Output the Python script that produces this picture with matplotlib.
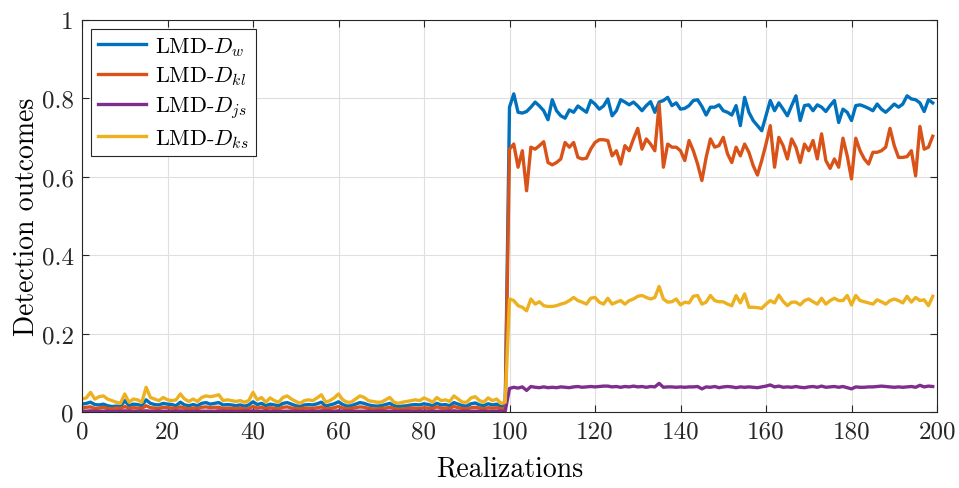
import numpy as np
import matplotlib
matplotlib.use("Agg")
import matplotlib.pyplot as plt

plt.rcParams['font.family'] = 'serif'
plt.rcParams['font.serif'] = ['cmr10']
plt.rcParams['mathtext.fontset'] = 'cm'
plt.rcParams['axes.formatter.use_mathtext'] = True
plt.rcParams['axes.unicode_minus'] = False

realizations = np.arange(0, 200)

blue_low = [0.020,0.022,0.025,0.019,0.018,0.020,0.016,0.014,0.015,0.014,
 0.029,0.016,0.020,0.019,0.016,0.031,0.022,0.019,0.018,0.022,
 0.020,0.019,0.016,0.025,0.018,0.016,0.019,0.016,0.022,0.024,
 0.020,0.022,0.024,0.018,0.019,0.018,0.016,0.018,0.015,0.018,
 0.026,0.019,0.022,0.016,0.020,0.018,0.016,0.022,0.024,0.020,
 0.016,0.014,0.018,0.019,0.018,0.021,0.025,0.015,0.018,0.021,
 0.026,0.019,0.015,0.016,0.020,0.024,0.022,0.018,0.016,0.015,
 0.016,0.019,0.022,0.016,0.014,0.015,0.016,0.018,0.019,0.018,
 0.021,0.019,0.016,0.022,0.018,0.019,0.016,0.024,0.020,0.016,
 0.015,0.021,0.023,0.018,0.016,0.021,0.018,0.020,0.014,0.016]
blue_high = [0.777,0.811,0.764,0.762,0.766,0.777,0.790,0.780,0.768,0.745,
 0.796,0.768,0.755,0.749,0.770,0.764,0.780,0.772,0.764,0.794,
 0.785,0.772,0.780,0.798,0.755,0.768,0.796,0.790,0.783,0.790,
 0.780,0.768,0.781,0.791,0.764,0.790,0.794,0.802,0.781,0.788,
 0.772,0.774,0.781,0.794,0.796,0.779,0.757,0.777,0.777,0.783,
 0.768,0.764,0.757,0.781,0.730,0.802,0.764,0.743,0.730,0.717,
 0.755,0.794,0.768,0.788,0.772,0.755,0.781,0.806,0.743,0.781,
 0.783,0.768,0.783,0.777,0.766,0.781,0.794,0.738,0.772,0.764,
 0.743,0.781,0.783,0.779,0.774,0.768,0.785,0.772,0.764,0.774,
 0.785,0.777,0.785,0.806,0.798,0.796,0.788,0.766,0.796,0.788]

red_low = [0.010,0.012,0.013,0.009,0.010,0.012,0.009,0.008,0.010,0.009,
 0.014,0.009,0.011,0.010,0.009,0.016,0.011,0.010,0.009,0.012,
 0.011,0.010,0.009,0.013,0.010,0.008,0.010,0.009,0.012,0.013,
 0.011,0.012,0.012,0.009,0.010,0.009,0.008,0.010,0.008,0.009,
 0.014,0.010,0.012,0.008,0.011,0.009,0.008,0.012,0.013,0.010,
 0.009,0.008,0.010,0.010,0.009,0.011,0.013,0.008,0.009,0.011,
 0.014,0.010,0.008,0.009,0.011,0.013,0.012,0.009,0.008,0.008,
 0.009,0.010,0.012,0.009,0.007,0.008,0.009,0.010,0.010,0.009,
 0.011,0.010,0.009,0.013,0.010,0.010,0.009,0.014,0.011,0.009,
 0.008,0.011,0.012,0.010,0.008,0.011,0.010,0.011,0.008,0.009]
red_high = [0.670,0.683,0.624,0.666,0.564,0.675,0.670,0.679,0.689,0.636,
 0.630,0.636,0.645,0.687,0.675,0.687,0.649,0.645,0.647,0.670,
 0.687,0.694,0.694,0.692,0.653,0.666,0.632,0.679,0.666,0.696,
 0.723,0.670,0.696,0.683,0.666,0.785,0.624,0.683,0.675,0.675,
 0.666,0.641,0.692,0.666,0.632,0.590,0.649,0.696,0.675,0.679,
 0.700,0.658,0.636,0.675,0.653,0.683,0.662,0.628,0.604,0.641,
 0.683,0.730,0.624,0.700,0.679,0.645,0.696,0.675,0.636,0.683,
 0.666,0.692,0.645,0.709,0.641,0.621,0.645,0.624,0.698,0.653,
 0.594,0.698,0.666,0.645,0.632,0.662,0.662,0.666,0.675,0.723,
 0.679,0.649,0.649,0.651,0.666,0.602,0.728,0.670,0.675,0.703]

purple_low = [0.002,0.002,0.003,0.002,0.002,0.002,0.002,0.001,0.002,0.002,
 0.003,0.002,0.002,0.002,0.002,0.003,0.002,0.002,0.002,0.002,
 0.002,0.002,0.002,0.003,0.002,0.001,0.002,0.002,0.002,0.002,
 0.002,0.002,0.003,0.002,0.002,0.002,0.001,0.002,0.002,0.002,
 0.003,0.002,0.002,0.002,0.002,0.002,0.001,0.002,0.002,0.002,
 0.002,0.001,0.002,0.002,0.002,0.002,0.003,0.002,0.002,0.002,
 0.003,0.002,0.002,0.002,0.002,0.002,0.002,0.002,0.001,0.002,
 0.002,0.002,0.002,0.002,0.001,0.002,0.002,0.002,0.002,0.002,
 0.002,0.002,0.002,0.002,0.002,0.002,0.002,0.003,0.002,0.002,
 0.002,0.002,0.002,0.002,0.002,0.002,0.002,0.002,0.002,0.002]
purple_high = [0.060,0.063,0.061,0.064,0.055,0.065,0.063,0.062,0.064,0.062,
 0.063,0.062,0.064,0.063,0.062,0.064,0.065,0.063,0.064,0.065,
 0.064,0.065,0.066,0.066,0.064,0.065,0.063,0.065,0.064,0.066,
 0.064,0.065,0.063,0.065,0.064,0.073,0.063,0.064,0.064,0.063,
 0.064,0.063,0.064,0.064,0.065,0.059,0.064,0.063,0.065,0.062,
 0.064,0.065,0.064,0.062,0.064,0.063,0.064,0.063,0.062,0.064,
 0.066,0.069,0.064,0.066,0.063,0.064,0.063,0.065,0.063,0.062,
 0.064,0.065,0.063,0.066,0.063,0.064,0.065,0.063,0.065,0.062,
 0.059,0.064,0.063,0.063,0.064,0.064,0.065,0.066,0.065,0.064,
 0.063,0.064,0.063,0.064,0.065,0.063,0.068,0.064,0.066,0.065]

yellow_low = [0.033,0.036,0.050,0.033,0.039,0.041,0.033,0.029,0.025,0.022,
 0.046,0.025,0.033,0.031,0.025,0.063,0.037,0.033,0.029,0.037,
 0.031,0.029,0.031,0.046,0.033,0.027,0.033,0.027,0.037,0.041,
 0.039,0.041,0.044,0.029,0.031,0.029,0.027,0.029,0.025,0.029,
 0.050,0.031,0.037,0.025,0.036,0.029,0.025,0.037,0.041,0.033,
 0.027,0.022,0.029,0.031,0.029,0.036,0.044,0.025,0.029,0.036,
 0.046,0.031,0.025,0.025,0.033,0.041,0.037,0.029,0.027,0.025,
 0.025,0.031,0.037,0.025,0.022,0.025,0.027,0.029,0.031,0.029,
 0.036,0.031,0.025,0.037,0.029,0.031,0.027,0.041,0.033,0.025,
 0.025,0.036,0.039,0.029,0.025,0.036,0.029,0.033,0.022,0.025]
yellow_high = [0.288,0.284,0.271,0.267,0.258,0.288,0.275,0.281,0.271,0.269,
 0.269,0.271,0.275,0.278,0.284,0.292,0.284,0.280,0.275,0.290,
 0.292,0.280,0.275,0.290,0.275,0.280,0.284,0.275,0.284,0.288,
 0.295,0.297,0.292,0.288,0.292,0.320,0.288,0.280,0.281,0.288,
 0.273,0.280,0.278,0.295,0.297,0.275,0.280,0.297,0.284,0.281,
 0.281,0.275,0.271,0.297,0.278,0.301,0.267,0.267,0.266,0.264,
 0.275,0.284,0.278,0.298,0.282,0.271,0.280,0.280,0.273,0.284,
 0.288,0.281,0.275,0.290,0.275,0.284,0.290,0.284,0.284,0.297,
 0.273,0.297,0.284,0.281,0.278,0.275,0.286,0.281,0.275,0.284,
 0.288,0.284,0.278,0.295,0.280,0.292,0.284,0.286,0.271,0.295]

labels = [r'LMD-$D_{w}$', r'LMD-$D_{kl}$', r'LMD-$D_{js}$', r'LMD-$D_{ks}$']
colors = ['#0072BD', '#D95319', '#7E2F8E', '#EDB120']
series = [blue_low + blue_high, red_low + red_high,
          purple_low + purple_high, yellow_low + yellow_high]

xticks = [0, 20, 40, 60, 80, 100, 120, 140, 160, 180, 200]
yticks = [0, 0.2, 0.4, 0.6, 0.8, 1]
ytick_labels = ['0', '0.2', '0.4', '0.6', '0.8', '1']

fig = plt.figure(figsize=(9.59, 4.89), dpi=100)
ax = fig.add_axes([82/959, 1-413/489, (937-82)/959, (413-20.7)/489])

for vals, lab, col in zip(series, labels, colors):
    ax.plot(realizations, vals, color=col, lw=2.4, label=lab)

ax.set_xlim(0, 200)
ax.set_ylim(0, 1)
ax.set_xticks(xticks)
ax.set_xticklabels([str(t) for t in xticks])
ax.set_yticks(yticks)
ax.set_yticklabels(ytick_labels)
ax.grid(True, color='#dfdfdf', lw=0.8)
ax.set_axisbelow(True)
for sp in ax.spines.values():
    sp.set_color('#262626')
    sp.set_linewidth(0.8)
ax.tick_params(direction='in', length=5, width=0.8, top=True, right=True,
               labelsize=18, colors='#262626', pad=6)
ax.set_xlabel('Realizations', fontsize=20, labelpad=9)
ax.set_ylabel('Detection outcomes', fontsize=20, labelpad=1)

leg = ax.legend(loc='upper left', fontsize=16, frameon=True, fancybox=False,
                edgecolor='#262626', framealpha=1, borderpad=0.3,
                labelspacing=0.3, handlelength=2.2, handletextpad=0.4,
                borderaxespad=0.4)
leg.get_frame().set_linewidth(0.8)

fig.savefig('out.png', dpi=100)
